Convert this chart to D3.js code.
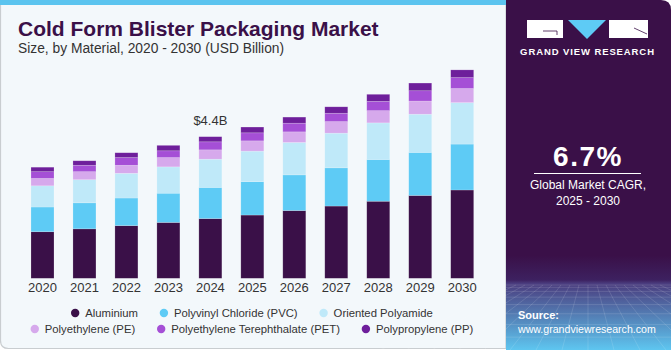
<!DOCTYPE html>
<html>
<head>
<meta charset="utf-8">
<script src="https://cdn.jsdelivr.net/npm/d3@7"></script>
<style>
  body { margin: 0; background: #ffffff; }
  text { font-family: "Liberation Sans", Arial, sans-serif; }
</style>
</head>
<body>
<svg id="drawing_region"></svg>
<script>
// values in USD billion
const years = ["2020", "2021", "2022", "2023", "2024", "2025", "2026", "2027", "2028", "2029", "2030"];
const materials = ["Aluminium", "Polyvinyl Chloride (PVC)", "Oriented Polyamide",
                   "Polyethylene (PE)", "Polyethylene Terephthalate (PET)", "Polypropylene (PP)"];
const aluminium = [1.45, 1.54, 1.64, 1.74, 1.86, 1.97, 2.11, 2.25, 2.40, 2.58, 2.75];
const pvc       = [0.77, 0.81, 0.86, 0.91, 0.97, 1.04, 1.11, 1.19, 1.30, 1.34, 1.43];
const polyamide = [0.66, 0.72, 0.77, 0.82, 0.88, 0.95, 1.01, 1.08, 1.14, 1.19, 1.29];
const pe        = [0.23, 0.25, 0.25, 0.29, 0.29, 0.32, 0.33, 0.36, 0.38, 0.41, 0.44];
const pet       = [0.21, 0.20, 0.24, 0.21, 0.25, 0.25, 0.27, 0.26, 0.29, 0.32, 0.34];
const pp        = [0.14, 0.14, 0.15, 0.17, 0.16, 0.18, 0.19, 0.20, 0.22, 0.24, 0.24];
const colors = ["#3a1048", "#5ecbf5", "#bfe9f9", "#d6a9ec", "#a54fd6", "#6e1f9b"];
const labelYear = "2024";
const labelText = "$4.4B";

const series = [aluminium, pvc, polyamide, pe, pet, pp];
const table = years.map((y, i) => {
    const row = { year: y };
    materials.forEach((m, j) => { row[m] = series[j][i]; });
    return row;
});

const W = 671, H = 350;
const svg = d3.select('#drawing_region')
    .attr('width', W)
    .attr('height', H);

// ---- left panel background
const defs = svg.append('defs');
svg.append('path')
    .attr('d', `M0.5,0 H506 V348.5 H8.5 Q0.5,348.5 0.5,340.5 Z`)
    .attr('fill', '#f3f8fb')
    .attr('stroke', '#c9cdd0')
    .attr('stroke-width', 1.2);
svg.append('rect')
    .attr('x', 0).attr('y', 0)
    .attr('width', 506).attr('height', 5)
    .attr('fill', '#5bc4ef');

// ---- title
svg.append('text')
    .attr('x', 18).attr('y', 36)
    .attr('fill', '#3a1048')
    .attr('font-size', '21px')
    .attr('font-weight', 'bold')
    .text('Cold Form Blister Packaging Market');
svg.append('text')
    .attr('x', 18).attr('y', 53)
    .attr('fill', '#333333')
    .attr('font-size', '13.8px')
    .text('Size, by Material, 2020 - 2030 (USD Billion)');

// ---- chart
const xscale = d3.scaleBand()
    .domain(years)
    .range([21.5, 483.2])
    .paddingInner(0.452)
    .paddingOuter(0.226);

const yscale = d3.scaleLinear()
    .domain([0, 4.4])
    .range([278.3, 137]);

const stacked = d3.stack().keys(materials)(table);

const chart = svg.append('g');
chart.selectAll('g.layer')
    .data(stacked)
    .join('g')
    .attr('class', 'layer')
    .attr('fill', (d, i) => colors[i])
    .selectAll('rect')
    .data(d => d)
    .join('rect')
    .attr('x', d => xscale(d.data.year))
    .attr('y', d => yscale(d[1]))
    .attr('width', xscale.bandwidth())
    .attr('height', d => yscale(d[0]) - yscale(d[1]))
    .attr('stroke', '#ffffff')
    .attr('stroke-opacity', 0.3)
    .attr('stroke-width', 0.6);

const xaxis = d3.axisBottom(xscale).tickSize(0).tickPadding(3.5);
const xaxis_group = svg.append('g')
    .attr('transform', 'translate(0, 279)')
    .call(xaxis);
xaxis_group.select('.domain').remove();
xaxis_group.selectAll('text')
    .attr('font-family', '"Liberation Sans", Arial, sans-serif')
    .attr('font-size', '13px')
    .attr('fill', '#333333');

// value label on 2024
const total2024 = d3.sum(series, s => s[years.indexOf(labelYear)]);
svg.append('text')
    .attr('x', xscale(labelYear) + xscale.bandwidth() / 2)
    .attr('y', yscale(total2024) - 12)
    .attr('text-anchor', 'middle')
    .attr('font-size', '13px')
    .attr('fill', '#333333')
    .text(labelText);

// ---- legend (two centred rows)
const legendRows = [[0, 1, 2], [3, 4, 5]];
const legendY = [313, 329];
legendRows.forEach((row, r) => {
    const g = svg.append('g');
    let x = 0;
    row.forEach(i => {
        g.append('circle')
            .attr('cx', x + 4).attr('cy', legendY[r])
            .attr('r', 4.2)
            .attr('fill', colors[i]);
        const t = g.append('text')
            .attr('x', x + 14).attr('y', legendY[r] + 4)
            .attr('font-size', '11.3px')
            .attr('fill', '#333333')
            .text(materials[i]);
        x += 14 + t.node().getComputedTextLength() + 22;
    });
    const w = x - 22;
    g.attr('transform', `translate(${252 - w / 2}, 0)`);
});

// ---- right panel
const grad = defs.append('linearGradient')
    .attr('id', 'panelGrad')
    .attr('x1', 0).attr('y1', 0).attr('x2', 0).attr('y2', 1);
grad.append('stop').attr('offset', '0%').attr('stop-color', '#3a1048');
grad.append('stop').attr('offset', '73%').attr('stop-color', '#3a1048');
grad.append('stop').attr('offset', '80%').attr('stop-color', '#3d2160');
grad.append('stop').attr('offset', '81%').attr('stop-color', '#4a3c7e');
grad.append('stop').attr('offset', '100%').attr('stop-color', '#5ec6f0');

svg.append('path')
    .attr('d', `M506,0 H661 Q671,0 671,10 V350 H506 Z`)
    .attr('fill', 'url(#panelGrad)');

// faint mesh at the bottom of the panel
const mesh = svg.append('g')
    .attr('stroke', '#ffffff')
    .attr('stroke-opacity', 0.18)
    .attr('stroke-width', 0.7)
    .attr('fill', 'none');
d3.range(0, 9).forEach(k => {
    const y = 285 + k * k * 0.85 + k * 1.5;
    mesh.append('line').attr('x1', 506).attr('x2', 671).attr('y1', y).attr('y2', y);
});
d3.range(-8, 9).forEach(k => {
    mesh.append('line')
        .attr('x1', 588 + k * 9).attr('y1', 285)
        .attr('x2', 588 + k * 26).attr('y2', 350);
});

// logo
const logo = svg.append('g');
logo.append('rect').attr('x', 527).attr('y', 20).attr('width', 36).attr('height', 18).attr('fill', '#ffffff');
logo.append('path').attr('d', 'M543,31 H557 V35').attr('stroke', '#3a1048').attr('stroke-width', 0.8).attr('fill', 'none');
logo.append('path').attr('d', 'M568,20 H606 L587,39 Z').attr('fill', '#5ecbf5');
logo.append('rect').attr('x', 609).attr('y', 20).attr('width', 39).attr('height', 18).attr('fill', '#ffffff');
logo.append('path').attr('d', 'M634,28 L647,34').attr('stroke', '#3a1048').attr('stroke-width', 0.8);
svg.append('text')
    .attr('x', 587.5).attr('y', 55)
    .attr('text-anchor', 'middle')
    .attr('fill', '#ffffff')
    .attr('font-size', '9.5px')
    .attr('font-weight', 'bold')
    .attr('letter-spacing', '0.9px')
    .text('GRAND VIEW RESEARCH');

svg.append('text')
    .attr('x', 588).attr('y', 166)
    .attr('text-anchor', 'middle')
    .attr('fill', '#ffffff')
    .attr('font-size', '28px')
    .attr('font-weight', 'bold')
    .attr('letter-spacing', '1.5px')
    .text('6.7%');
svg.append('line')
    .attr('x1', 534).attr('x2', 641)
    .attr('y1', 173.5).attr('y2', 173.5)
    .attr('stroke', '#ffffff').attr('stroke-width', 1);
svg.append('text')
    .attr('x', 588).attr('y', 189)
    .attr('text-anchor', 'middle')
    .attr('fill', '#ffffff')
    .attr('font-size', '12px')
    .text('Global Market CAGR,');
svg.append('text')
    .attr('x', 588).attr('y', 205)
    .attr('text-anchor', 'middle')
    .attr('fill', '#ffffff')
    .attr('font-size', '12px')
    .text('2025 - 2030');

svg.append('text')
    .attr('x', 518).attr('y', 319)
    .attr('fill', '#ffffff')
    .attr('font-size', '11px')
    .attr('font-weight', 'bold')
    .text('Source:');
svg.append('text')
    .attr('x', 518).attr('y', 333)
    .attr('fill', '#ffffff')
    .attr('font-size', '10.6px')
    .text('www.grandviewresearch.com');
</script>
</body>
</html>
